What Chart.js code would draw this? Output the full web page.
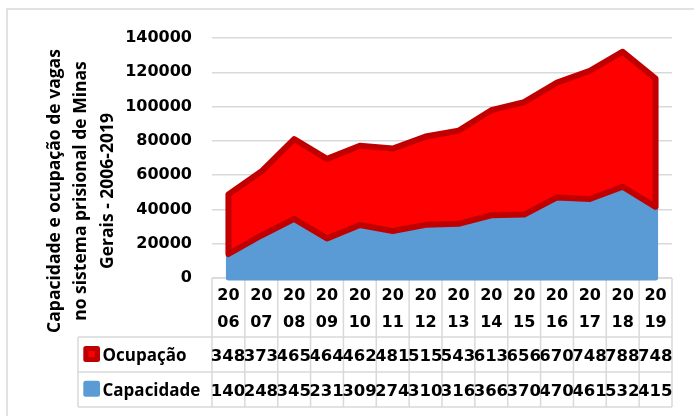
<!DOCTYPE html>
<html><head><meta charset="utf-8">
<script src="https://cdn.jsdelivr.net/npm/chart.js@4.4.1/dist/chart.umd.min.js"></script>
<style>html,body{margin:0;padding:0;background:#fff;}canvas{display:block;}</style>
</head><body>
<canvas id="c" width="694" height="416"></canvas>
<script>
const years = ['2006','2007','2008','2009','2010','2011','2012','2013','2014','2015','2016','2017','2018','2019'];
const ocupacao = [34800, 37300, 46500, 46400, 46200, 48100, 51500, 54300, 61300, 65600, 67000, 74800, 78800, 74800];
const capacidade = [14000, 24800, 34500, 23100, 30900, 27400, 31000, 31600, 36600, 37000, 47000, 46100, 53200, 41500];
const yTickValues = [0, 20000, 40000, 60000, 80000, 100000, 120000, 140000];
const seriesNames = ['Ocupação', 'Capacidade'];
const axisTitle = ['Capacidade e ocupação de vagas', 'no sistema prisional de Minas', 'Gerais - 2006-2019'];

const BLUE = '#5B9BD5', RED = '#FF0000', DARKRED = '#C00000', GRID = '#D9D9D9';
const TEXTFONT = 'bold 17px "Open Sans"';
const NUMFONT = 'bold 16.5px "DejaVu Sans"';

const frame = {
  id: 'frame',
  beforeDraw(chart) {
    const ctx = chart.ctx;
    ctx.save();
    ctx.fillStyle = '#fff';
    ctx.fillRect(0, 0, chart.width, chart.height);
    ctx.strokeStyle = GRID; ctx.lineWidth = 1.5;
    ctx.strokeRect(7, 9, 720, 500);
    ctx.restore();
  }
};

const titlePlugin = {
  id: 'ytitle',
  afterDraw(chart) {
    const ctx = chart.ctx;
    const baselines = [60, 86.3, 112.6];
    ctx.save();
    ctx.fillStyle = '#000';
    ctx.font = 'bold 17.5px "Open Sans"';
    ctx.textAlign = 'center';
    ctx.textBaseline = 'alphabetic';
    axisTitle.forEach((t, i) => {
      ctx.save();
      ctx.translate(baselines[i], 191);
      ctx.rotate(-Math.PI / 2);
      ctx.fillText(t, 0, 0);
      ctx.restore();
    });
    ctx.restore();
  }
};

const tablePlugin = {
  id: 'dataTable',
  beforeDatasetsDraw(chart) {
    const ctx = chart.ctx, area = chart.chartArea, xs = chart.scales.x;
    const n = years.length;
    const colW = (area.right - area.left) / n;
    const top = area.bottom, hB = top + 59, r1B = hB + 35, r2B = r1B + 35;
    const legL = 78;
    ctx.save();
    ctx.strokeStyle = GRID; ctx.lineWidth = 1.5;
    ctx.beginPath();
    ctx.moveTo(area.left, top); ctx.lineTo(area.right, top);
    [hB, r1B, r2B].forEach(y => { ctx.moveTo(legL, y); ctx.lineTo(area.right, y); });
    ctx.moveTo(legL, hB); ctx.lineTo(legL, r2B);
    for (let k = 0; k <= n; k++) {
      const x = area.left + k * colW;
      ctx.moveTo(x, top); ctx.lineTo(x, r2B);
    }
    ctx.stroke();

    // header years
    ctx.fillStyle = '#000';
    ctx.font = 'bold 16px "DejaVu Sans"';
    ctx.textAlign = 'center'; ctx.textBaseline = 'alphabetic';
    years.forEach((yr, i) => {
      const cx = xs.getPixelForValue(i);
      ctx.fillText(yr.slice(0, 2), cx, top + 22.3);
      ctx.fillText(yr.slice(2), cx, top + 48.6);
    });

    // legend keys and values
    const rows = [{name: seriesNames[0], vals: ocupacao, base: hB + 23.6, sw: hB + 9},
                  {name: seriesNames[1], vals: capacidade, base: r1B + 23.8, sw: r1B + 8.7}];
    rows.forEach((row, ri) => {
      ctx.beginPath();
      if (ctx.roundRect) ctx.roundRect(83.3, row.sw, 16.7, 16, 2.5); else ctx.rect(83.3, row.sw, 16.7, 16);
      ctx.fillStyle = ri === 0 ? DARKRED : BLUE;
      ctx.fill();
      if (ri === 0) { ctx.fillStyle = RED; ctx.fillRect(88.5, row.sw + 5, 6.3, 6); }
      ctx.fillStyle = '#000';
      ctx.font = TEXTFONT; ctx.textAlign = 'left';
      ctx.fillText(row.name, 102.5, row.base);
      ctx.font = NUMFONT;
      row.vals.forEach((v, i) => {
        const cl = area.left + i * colW;
        ctx.save();
        ctx.beginPath(); ctx.rect(cl, row.base - 20, colW, 30); ctx.clip();
        ctx.fillText(String(v), cl - 1.2, row.base);
        ctx.restore();
      });
    });
    ctx.restore();
  }
};

const outline = {
  id: 'outline',
  afterDatasetsDraw(chart) {
    const ctx = chart.ctx;
    const b = chart.getDatasetMeta(0).data, r = chart.getDatasetMeta(1).data;
    const y0 = chart.scales.y.getPixelForValue(0);
    ctx.save();
    ctx.lineJoin = 'round';
    ctx.lineWidth = 5; ctx.strokeStyle = BLUE;
    ctx.beginPath();
    ctx.moveTo(b[0].x, y0);
    b.forEach(p => ctx.lineTo(p.x, p.y));
    ctx.lineTo(b[b.length - 1].x, y0);
    ctx.closePath(); ctx.stroke();
    ctx.lineWidth = 6; ctx.strokeStyle = DARKRED;
    ctx.beginPath();
    r.forEach((p, i) => i ? ctx.lineTo(p.x, p.y) : ctx.moveTo(p.x, p.y));
    for (let i = b.length - 1; i >= 0; i--) ctx.lineTo(b[i].x, b[i].y);
    ctx.closePath(); ctx.stroke();
    ctx.restore();
  }
};

new Chart(document.getElementById('c'), {
  type: 'line',
  data: {
    labels: years,
    datasets: [
      {label: seriesNames[1], data: capacidade, backgroundColor: BLUE, borderColor: 'rgba(0,0,0,0)', borderWidth: 0, pointRadius: 0, fill: 'origin', tension: 0},
      {label: seriesNames[0], data: ocupacao, backgroundColor: RED, borderColor: 'rgba(0,0,0,0)', borderWidth: 0, pointRadius: 0, fill: '-1', tension: 0}
    ]
  },
  options: {
    responsive: false,
    animation: false,
    layout: {padding: {left: 0, right: 22, top: 38, bottom: 138}},
    plugins: {legend: {display: false}, tooltip: {enabled: false}},
    scales: {
      x: {display: false, offset: true},
      y: {
        stacked: true, min: 0, max: 140000,
        afterBuildTicks(s) { s.ticks = yTickValues.map(v => ({value: v})); },
        afterFit(s) { s.width = 212; },
        ticks: {padding: 20, color: '#000', font: {family: 'DejaVu Sans', weight: 'bold', size: 16}, callback: v => String(v)},
        grid: {color: GRID, lineWidth: 1.5, drawTicks: false},
        border: {display: false}
      }
    }
  },
  plugins: [frame, tablePlugin, outline, titlePlugin]
});
</script>
</body></html>
